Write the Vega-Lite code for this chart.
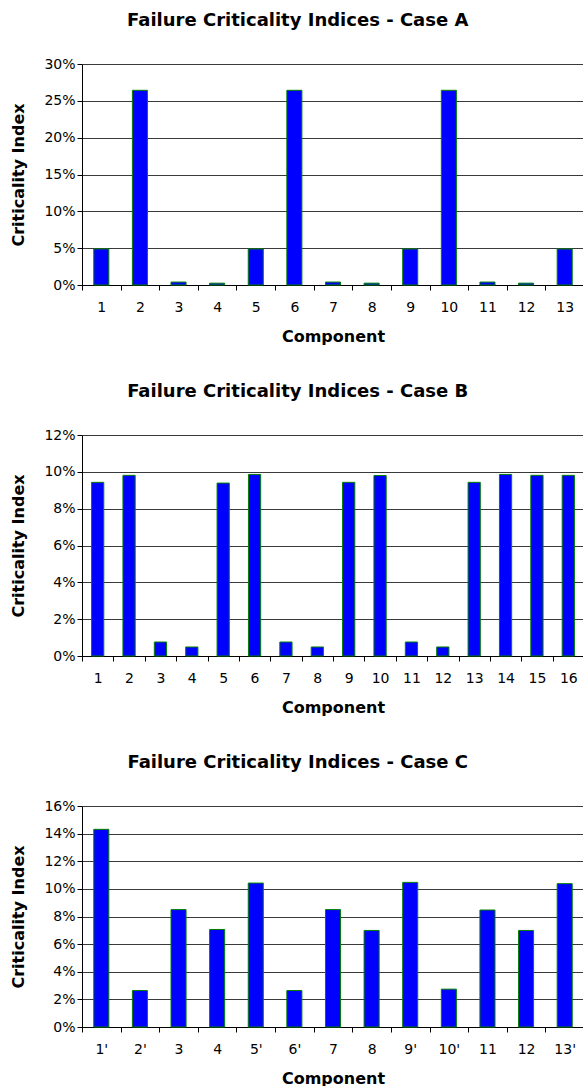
{
  "$schema": "https://vega.github.io/schema/vega-lite/v6.json",
  "background": "white",
  "padding": {"left": 10, "top": 12, "right": 0, "bottom": 0},
  "spacing": 39,
  "datasets": {
    "A": [
      {"component": "1", "index": 0.0489},
      {"component": "2", "index": 0.2643},
      {"component": "3", "index": 0.004},
      {"component": "4", "index": 0.0025},
      {"component": "5", "index": 0.0489},
      {"component": "6", "index": 0.2643},
      {"component": "7", "index": 0.004},
      {"component": "8", "index": 0.0025},
      {"component": "9", "index": 0.0489},
      {"component": "10", "index": 0.2643},
      {"component": "11", "index": 0.004},
      {"component": "12", "index": 0.0025},
      {"component": "13", "index": 0.0489}
    ],
    "B": [
      {"component": "1", "index": 0.0943},
      {"component": "2", "index": 0.0981},
      {"component": "3", "index": 0.0076},
      {"component": "4", "index": 0.0049},
      {"component": "5", "index": 0.0939},
      {"component": "6", "index": 0.0986},
      {"component": "7", "index": 0.0076},
      {"component": "8", "index": 0.0049},
      {"component": "9", "index": 0.0943},
      {"component": "10", "index": 0.098},
      {"component": "11", "index": 0.0076},
      {"component": "12", "index": 0.0049},
      {"component": "13", "index": 0.0943},
      {"component": "14", "index": 0.0986},
      {"component": "15", "index": 0.0981},
      {"component": "16", "index": 0.0981}
    ],
    "C": [
      {"component": "1'", "index": 0.1431},
      {"component": "2'", "index": 0.0264},
      {"component": "3", "index": 0.085},
      {"component": "4", "index": 0.0706},
      {"component": "5'", "index": 0.1042},
      {"component": "6'", "index": 0.0264},
      {"component": "7", "index": 0.085},
      {"component": "8", "index": 0.0699},
      {"component": "9'", "index": 0.1047},
      {"component": "10'", "index": 0.0274},
      {"component": "11", "index": 0.0847},
      {"component": "12", "index": 0.0699},
      {"component": "13'", "index": 0.1038}
    ]
  },
  "config": {
    "font": "DejaVu Sans",
    "view": {"stroke": null},
    "title": {"font": "DejaVu Sans", "fontSize": 18, "fontWeight": "bold", "color": "#000000", "anchor": "middle", "frame": "bounds", "offset": 27},
    "axis": {
      "labelFont": "DejaVu Sans",
      "labelFontSize": 14,
      "labelColor": "#000000",
      "titleFont": "DejaVu Sans",
      "titleFontSize": 16,
      "titleFontWeight": "bold",
      "titleColor": "#000000",
      "domainColor": "#000000",
      "domainWidth": 1,
      "tickColor": "#000000",
      "tickSize": 5
    },
    "axisX": {"labelAngle": 0, "labelPadding": 10, "titlePadding": 14, "grid": false, "tickBand": "extent"},
    "axisY": {"grid": true, "gridColor": "#3a3a3a", "gridWidth": 1, "gridOpacity": 1, "labelPadding": 2, "titlePadding": 17}
  },
  "vconcat": [
    {
      "title": "Failure Criticality Indices - Case A",
      "width": 502,
      "height": 221,
      "data": {"name": "A"},
      "mark": {"type": "bar", "fill": "#0000ff", "stroke": "#008000", "strokeWidth": 1, "width": {"band": 0.39}},
      "encoding": {
        "x": {"field": "component", "type": "ordinal", "sort": null, "title": "Component", "scale": {"paddingInner": 0, "paddingOuter": 0}},
        "y": {"field": "index", "type": "quantitative", "title": "Criticality Index", "scale": {"domain": [0, 0.3], "nice": false}, "axis": {"values": [0, 0.05, 0.1, 0.15, 0.2, 0.25, 0.3], "format": ".0%"}}
      }
    },
    {
      "title": "Failure Criticality Indices - Case B",
      "width": 502,
      "height": 221,
      "data": {"name": "B"},
      "mark": {"type": "bar", "fill": "#0000ff", "stroke": "#008000", "strokeWidth": 1, "width": {"band": 0.39}},
      "encoding": {
        "x": {"field": "component", "type": "ordinal", "sort": null, "title": "Component", "scale": {"paddingInner": 0, "paddingOuter": 0}},
        "y": {"field": "index", "type": "quantitative", "title": "Criticality Index", "scale": {"domain": [0, 0.12], "nice": false}, "axis": {"values": [0, 0.02, 0.04, 0.06, 0.08, 0.1, 0.12], "format": ".0%"}}
      }
    },
    {
      "title": "Failure Criticality Indices - Case C",
      "width": 502,
      "height": 221,
      "data": {"name": "C"},
      "mark": {"type": "bar", "fill": "#0000ff", "stroke": "#008000", "strokeWidth": 1, "width": {"band": 0.39}},
      "encoding": {
        "x": {"field": "component", "type": "ordinal", "sort": null, "title": "Component", "scale": {"paddingInner": 0, "paddingOuter": 0}},
        "y": {"field": "index", "type": "quantitative", "title": "Criticality Index", "scale": {"domain": [0, 0.16], "nice": false}, "axis": {"values": [0, 0.02, 0.04, 0.06, 0.08, 0.1, 0.12, 0.14, 0.16], "format": ".0%"}}
      }
    }
  ]
}
